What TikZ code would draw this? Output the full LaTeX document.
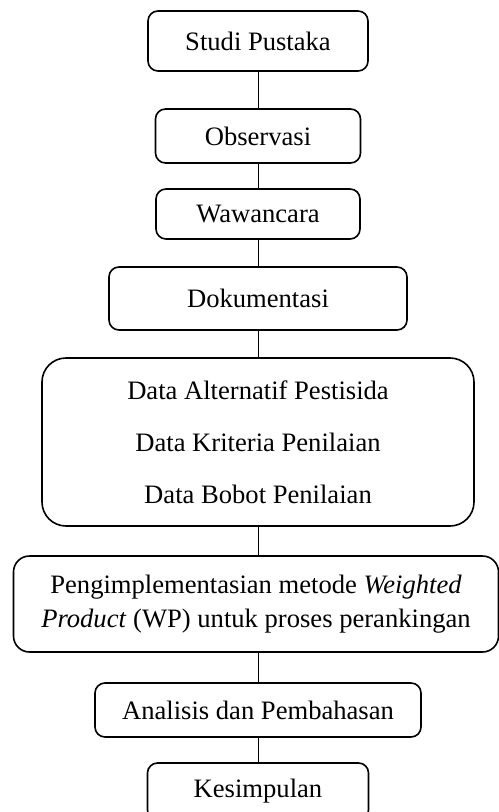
\documentclass[tikz,border=0pt]{standalone}
\usepackage{fontspec}
\setmainfont{Liberation Serif}
\usetikzlibrary{calc}

\begin{document}
\begin{tikzpicture}[x=0.5pt,y=-0.5pt]
        \useasboundingbox (0,0) rectangle (498,812);
        \tikzstyle{every node}=[draw,rectangle,rounded corners=5pt,line width=0.8pt,inner sep=0pt,align=center,font=\fontsize{13.3}{17}\selectfont]

        \begin{scope}[shift={(258,0)}]
            \node[minimum width=110pt,minimum height=30pt] (studi) at (0,41) {Studi Pustaka};
            \node[minimum width=102.5pt,minimum height=27pt] (obs) at (0,136) {Observasi};
            \node[minimum width=102pt,minimum height=25pt] (waw) at (0,214) {Wawancara};
            \node[minimum width=149pt,minimum height=31.5pt] (dok) at (0,298.5) {Dokumentasi};
            \node[minimum width=216pt,minimum height=84pt,rounded corners=12pt,font=\fontsize{13.3}{26}\selectfont] (data) at (0,442)
                {Data Alternatif Pestisida\\Data Kriteria Penilaian\\Data Bobot Penilaian};
            \node[minimum width=242.5pt,minimum height=48pt,rounded corners=8pt] (wp) at (-2,604)
                {Pengimplementasian metode \textit{Weighted}\\\textit{Product} (WP) untuk proses perankingan};
            \node[minimum width=163pt,minimum height=27pt] (analisis) at (0,710) {Analisis dan Pembahasan};
            \node[minimum width=110.5pt,minimum height=28.5pt] (kes) at (0,791.5) {Kesimpulan};
        \end{scope}

        \foreach \a/\b in {studi/obs,obs/waw,waw/dok,dok/data,data/wp,analisis/kes} {
            \draw[line width=0.4pt] (\a.south) -- (\a.south |- \b.north);
        }
        \draw[line width=0.4pt] (data.south |- wp.south) -- (data.south |- analisis.north);

\end{tikzpicture}
\end{document}
